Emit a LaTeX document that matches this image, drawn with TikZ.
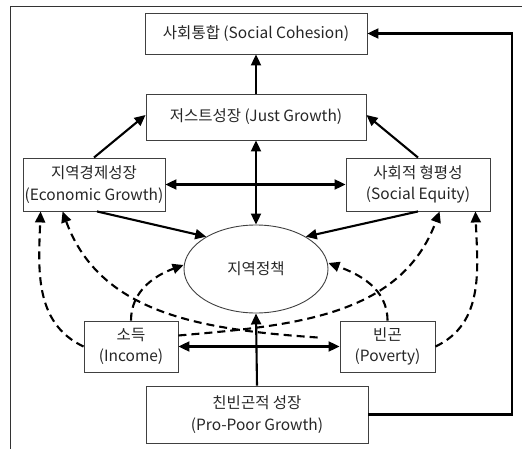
\documentclass[tikz,border=0pt]{standalone}
\usepackage{fontspec}
\setmainfont{Noto Sans CJK KR}
\usetikzlibrary{arrows.meta,shapes.geometric,calc}
\begin{document}
\begin{tikzpicture}[x=1pt,y=1pt,
  box/.style={draw=black!75, line width=0.9pt, align=center, inner sep=1pt,
    text=black!85, font=\fontsize{15.5}{21.5}\selectfont},
  tip/.style={-{Triangle[length=11pt,width=10pt]}},
  arr/.style={line width=2.1pt, tip},
  darr/.style={line width=2.1pt, {Triangle[length=11pt,width=10pt]}-{Triangle[length=11pt,width=10pt]}},
  dsh/.style={line width=2.1pt, dash pattern=on 8pt off 5pt, tip}]
\useasboundingbox (0,0) rectangle (522,-449);
\draw[line width=0.8pt, black!80] (10,-449) -- (10,-6) -- (522,-6);

\node[box, minimum width=222pt, minimum height=41pt] (sc) at (256,-33.5) {사회통합 (Social Cohesion)};
\node[box, minimum width=220pt, minimum height=46pt] (jg) at (256,-117) {저스트성장 (Just Growth)};
\node[box, minimum width=142pt, minimum height=53pt] (eg) at (94,-184.5) {지역경제성장\\(Economic Growth)};
\node[box, minimum width=144pt, minimum height=53pt] (se) at (418,-184.5) {사회적 형평성\\(Social Equity)};
\node[box, ellipse, minimum width=144pt, minimum height=88pt, inner sep=0pt] (ep) at (256,-269) {지역정책};
\node[box, minimum width=94pt, minimum height=51pt] (inc) at (131,-346.5) {소득\\(Income)};
\node[box, minimum width=95pt, minimum height=51pt] (pov) at (387.5,-346.5) {빈곤\\(Poverty)};
\node[box, minimum width=222pt, minimum height=57pt] (pp) at (257,-414.5) {친빈곤적 성장\\(Pro-Poor Growth)};
\coordinate (rr) at (512,0);

\draw[arr] (jg.north) -- (sc.south);
\draw[arr] (eg.north) -- ($(jg.west)+(0,2)$);
\draw[arr] (se.north) -- ($(jg.east)+(0,2)$);
\draw[darr] (eg.east) -- (se.west);
\draw[darr] (jg.south) -- (ep.north);
\draw[arr] ($(eg.south)+(3,0)$) -- (ep.147);
\draw[arr] ($(se.south)+(0,0)$) -- (ep.33);
\draw[arr] (pp.north) -- (ep.south);
\draw[darr] (inc.east) -- (pov.west);
\draw[arr] (pp.east) -- (pp.east -| rr) |- (sc.east);

\draw[dsh] (inc.west) to[out=155,in=-92] ($(eg.south west)+(18,0)$);
\draw[dsh] ($(pov.west)+(-22,9)$) to[out=176,in=-70] ($(eg.south west)+(40,0)$);
\draw[dsh] ($(inc.east)+(0,11)$) to[out=5,in=-110] ($(se.south west)+(94,0)$);
\draw[dsh] (pov.east) to[out=25,in=-88] ($(se.south east)+(-15,0)$);
\draw[dsh] (inc.north) to[out=90,in=200] ($(ep.west)+(0,4)$);
\draw[dsh] (pov.north) to[out=90,in=-20] ($(ep.east)+(0,6)$);
\end{tikzpicture}
\end{document}
